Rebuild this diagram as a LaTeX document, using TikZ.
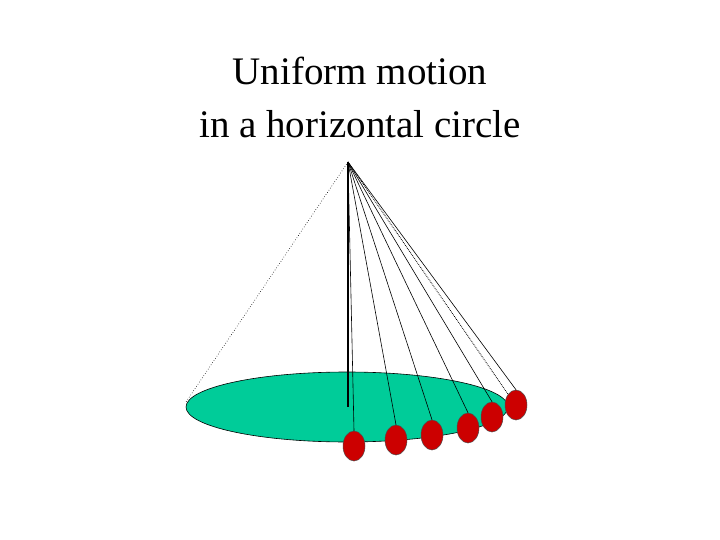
\documentclass[tikz,border=0pt]{standalone}
\usepackage{fontspec}
\setmainfont{Liberation Serif}
\usetikzlibrary{shapes.geometric}
\begin{document}
\begin{tikzpicture}[x=1pt,y=-1pt,
  ball/.style={draw=black!70,fill=red!80!black,ellipse,minimum width=22pt,minimum height=30pt,inner sep=0pt,line width=0.5pt},
  str/.style={line width=0.6pt}]
\useasboundingbox (0,0) rectangle (720,540);
\node[align=center,font=\fontsize{39}{53}\selectfont] (title) at (360,97) {Uniform motion\\in a horizontal circle};
\coordinate (apex) at (348,162);
\fill[fill={rgb,255:red,0;green,204;blue,153},draw=black,line width=0.6pt] (347,407) ellipse [x radius=161, y radius=35];
\coordinate (L) at (186,402);
\coordinate (C) at (348,407);
\draw[dotted,line width=0.6pt] (apex) -- (L);
\draw[line width=1.2pt] (apex) -- (C);
\foreach \i/\x/\y in {1/354/446,2/396/440,3/432/435,4/468/428,5/492/417,6/516/405}{
  \node[ball] (b\i) at (\x,\y) {};
  \draw[str] (apex) -- (b\i.north);
}
\draw[densely dotted,line width=0.8pt] (apex) -- (b6.north west);
\end{tikzpicture}
\end{document}
